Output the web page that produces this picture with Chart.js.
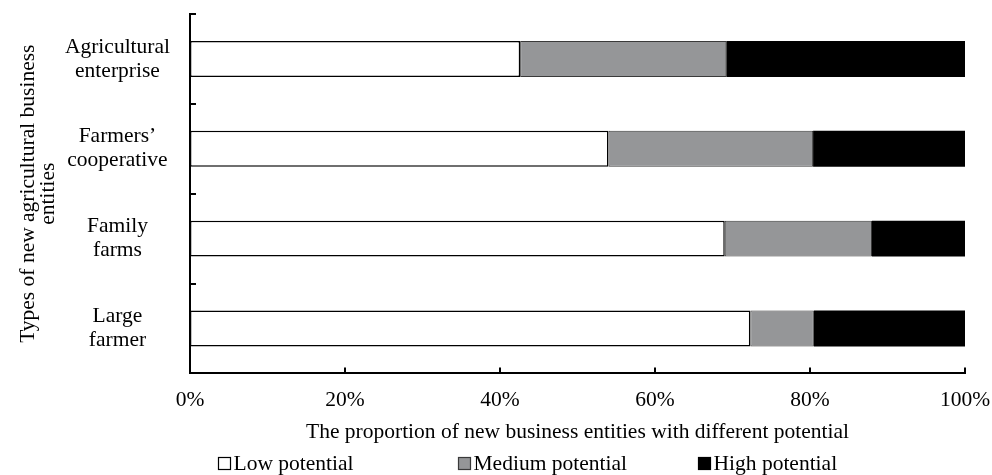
<!DOCTYPE html>
<html>
<head>
<meta charset="utf-8">
<script src="https://cdn.jsdelivr.net/npm/chart.js@4"></script>
<style>
  html, body { margin: 0; padding: 0; background: #fff; }
  #wrap { width: 992px; height: 475px; }
</style>
</head>
<body>
<div id="wrap"><canvas id="potentialChart" width="992" height="475"></canvas></div>
<script>
const entityTypes = [
    ['Agricultural', 'enterprise'],
    ['Farmers\u2019', 'cooperative'],
    ['Family', 'farms'],
    ['Large', 'farmer']
]
const lowPotential = [42.6, 54.0, 69.0, 72.3]
const mediumPotential = [26.6, 26.4, 19.0, 8.2]
const highPotential = [30.8, 19.6, 12.0, 19.5]
const percentTicks = [0, 20, 40, 60, 80, 100]

const serif = 'Liberation Serif'
const fontSize = 21.5

// short tick marks pointing into the plot
const innerTicks = {
    id: 'innerTicks',
    afterDraw(chart) {
        const ctx = chart.ctx
        const x = chart.scales.x
        const y = chart.scales.y
        ctx.save()
        ctx.strokeStyle = '#000'
        ctx.lineWidth = 2
        ctx.beginPath()
        percentTicks.slice(1).forEach(v => {
            const px = Math.round(x.getPixelForValue(v))
            ctx.moveTo(px, y.bottom)
            ctx.lineTo(px, y.bottom - 6)
        })
        for (let i = 0; i <= entityTypes.length; i++) {
            const py = Math.round(y.getPixelForValue(i - 0.5))
            ctx.moveTo(x.left, py)
            ctx.lineTo(x.left + 6, py)
        }
        ctx.stroke()
        ctx.restore()
    }
}

// legend in equal-width slots centred under the plot
const slotLegend = {
    id: 'slotLegend',
    afterDraw(chart) {
        const ctx = chart.ctx
        const area = chart.chartArea
        const sets = chart.data.datasets
        const slot = 240
        const box = 12
        const cy = chart.height - 12
        let x0 = (area.left + area.right) / 2 - slot * sets.length / 2
        ctx.save()
        ctx.font = fontSize + 'px "' + serif + '"'
        ctx.textBaseline = 'middle'
        ctx.textAlign = 'left'
        sets.forEach((ds, i) => {
            const bx = Math.round(x0 + i * slot) + 0.5
            const by = Math.round(cy - box / 2) + 0.5
            ctx.fillStyle = ds.backgroundColor
            ctx.fillRect(bx, by, box, box)
            ctx.strokeStyle = ds.label === 'Medium potential' ? '#3a3a3a' : '#000'
            ctx.lineWidth = 1.2
            ctx.strokeRect(bx, by, box, box)
            ctx.fillStyle = '#000'
            ctx.fillText(ds.label, bx + box + 3, cy + 1)
        })
        ctx.restore()
    }
}

const dataPotential = {
    labels: entityTypes,
    datasets: [
        {
            label: 'Low potential',
            data: lowPotential,
            backgroundColor: '#ffffff',
            borderColor: '#000000',
            borderWidth: 1.5,
            borderSkipped: false,
            categoryPercentage: 1,
            barPercentage: 0.4
        },
        {
            label: 'Medium potential',
            data: mediumPotential,
            backgroundColor: '#959698',
            borderColor: '#3a3a3a',
            borderWidth: 1,
            borderSkipped: false,
            categoryPercentage: 1,
            barPercentage: 0.4
        },
        {
            label: 'High potential',
            data: highPotential,
            backgroundColor: '#000000',
            borderColor: '#000000',
            borderWidth: 0,
            categoryPercentage: 1,
            barPercentage: 0.4
        }
    ]
}

const configPotential = {
    type: 'bar',
    data: dataPotential,
    options: {
        indexAxis: 'y',
        responsive: false,
        animation: false,
        layout: {
            padding: { top: 14, right: 27, bottom: 30, left: 18 }
        },
        scales: {
            x: {
                stacked: true,
                min: 0,
                max: 100,
                afterFit(scale) {
                    scale.paddingLeft = 0
                    scale.paddingRight = 0
                },
                ticks: {
                    stepSize: 20,
                    padding: 14,
                    maxRotation: 0,
                    color: '#000',
                    font: { family: serif, size: fontSize },
                    callback: v => v + '%'
                },
                grid: { display: false, drawTicks: false },
                border: { display: true, color: '#000', width: 2 },
                title: {
                    display: true,
                    text: 'The proportion of new business entities with different potential',
                    color: '#000',
                    font: { family: serif, size: fontSize },
                    padding: { top: -8, bottom: 0 }
                }
            },
            y: {
                stacked: true,
                afterFit(scale) {
                    scale.width = 172
                    scale.paddingTop = 0
                    scale.paddingBottom = 0
                },
                ticks: {
                    crossAlign: 'center',
                    padding: 20,
                    color: '#000',
                    font: { family: serif, size: fontSize, lineHeight: 1.12 }
                },
                grid: { display: false, drawTicks: false },
                border: { display: true, color: '#000', width: 2 },
                title: {
                    display: true,
                    text: ['Types of new agricultural business', 'entities'],
                    color: '#000',
                    font: { family: serif, size: fontSize, lineHeight: 0.95 },
                    padding: { top: 0, bottom: 0 }
                }
            }
        },
        plugins: {
            legend: { display: false },
            tooltip: { enabled: false }
        }
    },
    plugins: [innerTicks, slotLegend]
}

let chartPotential = new Chart(
    document.getElementById('potentialChart'),
    configPotential
)
</script>
</body>
</html>
